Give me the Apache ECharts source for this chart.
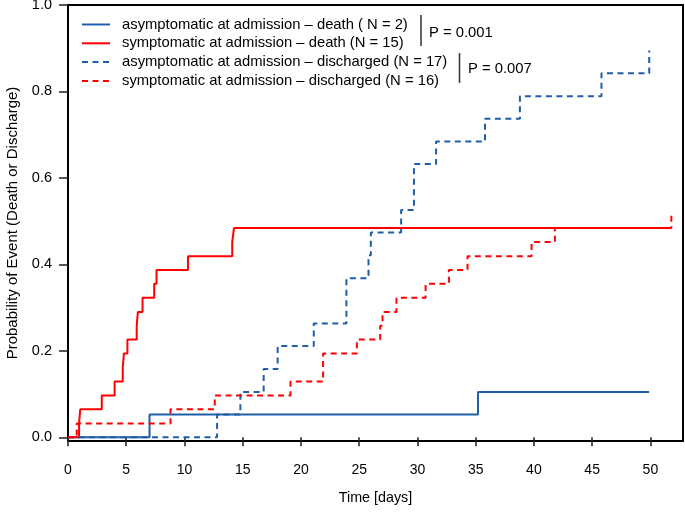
<!DOCTYPE html>
<html>
<head>
<meta charset="utf-8">
<script src="https://cdn.jsdelivr.net/npm/echarts@6/dist/echarts.min.js"></script>
<style>
  html, body { margin: 0; padding: 0; background: #fff; }
  #chart { width: 685px; height: 513px; }
</style>
</head>
<body>
<div id="chart"></div>
<script>
// ---- data ----
const seriesNames = [
  'asymptomatic at admission \u2013 death ( N = 2)',
  'symptomatic at admission \u2013 death (N = 15)',
  'asymptomatic at admission \u2013 discharged (N = 17)',
  'symptomatic at admission \u2013 discharged (N = 16)'
];

// asymptomatic – death (blue solid)
const asymDeathTime = [0, 7.0, 35.2, 49.9];
const asymDeathProb = [0, 0.053, 0.105, 0.105];

// symptomatic – death (red solid)
const symDeathTime = [0, 0.95, 1.05, 2.9, 4.0, 4.7, 4.8, 5.1, 5.9, 6.0, 6.4, 7.4, 7.6, 10.3, 14.1, 14.25, 51.8];
const symDeathProb = [0, 0.032, 0.065, 0.097, 0.129, 0.161, 0.194, 0.226, 0.258, 0.290, 0.323, 0.355, 0.387, 0.419, 0.452, 0.484, 0.484];

// asymptomatic – discharged (blue dashed)
const asymDischTime = [0, 12.8, 14.8, 16.8, 18.0, 21.1, 23.9, 25.8, 26.0, 28.6, 29.7, 31.6, 35.8, 38.8, 45.8, 49.9];
const asymDischProb = [0, 0.053, 0.105, 0.158, 0.211, 0.263, 0.368, 0.421, 0.474, 0.526, 0.632, 0.684, 0.737, 0.789, 0.842, 0.895];

// symptomatic – discharged (red dashed)
const symDischTime = [0, 0.75, 8.8, 12.6, 19.1, 21.9, 24.8, 26.8, 27.0, 28.2, 30.7, 32.7, 34.3, 39.8, 41.8, 51.8];
const symDischProb = [0, 0.032, 0.065, 0.097, 0.129, 0.194, 0.226, 0.258, 0.290, 0.323, 0.355, 0.387, 0.419, 0.452, 0.484, 0.516];

const xTicks = [0, 5, 10, 15, 20, 25, 30, 35, 40, 45, 50];
const yTicks = [0, 0.2, 0.4, 0.6, 0.8, 1.0];
const pValues = ['P = 0.001', 'P = 0.007'];

// ---- chart ----
const BLUE = '#1f5ea8';
const RED = '#ff0000';
const FONT = '"Liberation Sans", Arial, Helvetica, sans-serif';

function pairs(t, p) { return t.map((v, i) => [v, p[i]]); }

function mk(name, t, p, color, dashed) {
  return {
    name: name,
    type: 'line',
    step: 'end',
    data: pairs(t, p),
    symbol: 'none',
    showSymbol: false,
    clip: false,
    lineStyle: { color: color, width: 2, type: dashed ? [6, 4.5] : 'solid' },
    itemStyle: { color: color },
    emphasis: { disabled: true }
  };
}

const chart = echarts.init(document.getElementById('chart'), null, { renderer: 'canvas' });

chart.setOption({
  animation: false,
  backgroundColor: '#fff',
  textStyle: { fontFamily: FONT },
  grid: {
    left: 68, right: 2, top: 5, bottom: 72,
    outerBoundsMode: 'none',
    containLabel: false,
    show: true, borderColor: '#000', borderWidth: 2, backgroundColor: 'transparent'
  },
  legend: {
    orient: 'vertical',
    left: 81, top: 17,
    padding: 0,
    itemWidth: 28, itemHeight: 14, itemGap: 3.8,
    data: seriesNames,
    itemStyle: { opacity: 0 },
    textStyle: { fontFamily: FONT, fontSize: 14.8, lineHeight: 14, color: '#000', padding: [0, 0, 0, 7] },
    selectedMode: false
  },
  xAxis: {
    type: 'value',
    min: 0, max: 52.8,
    name: 'Time [days]',
    nameLocation: 'middle',
    nameGap: 50,
    nameTextStyle: { fontFamily: FONT, fontSize: 14.3, color: '#000' },
    axisLine: { show: false },
    splitLine: { show: false },
    axisTick: { show: true, inside: false, length: 9, customValues: xTicks, lineStyle: { color: '#222', width: 1.5 } },
    axisLabel: { customValues: xTicks, margin: 22, fontFamily: FONT, fontSize: 14, color: '#000' }
  },
  yAxis: {
    type: 'value',
    min: -0.0085, max: 1.0,
    name: 'Probability of Event (Death or Discharge)',
    nameLocation: 'middle',
    nameGap: 48,
    nameRotate: 90,
    nameTextStyle: { fontFamily: FONT, fontSize: 15, color: '#000' },
    axisLine: { show: false },
    splitLine: { show: false },
    axisTick: { show: true, inside: false, length: 9, customValues: yTicks, lineStyle: { color: '#222', width: 1.5 } },
    axisLabel: {
      customValues: yTicks, margin: 16, fontFamily: FONT, fontSize: 14.5, color: '#000',
      formatter: v => Number(v).toFixed(1)
    }
  },
  series: [
    mk(seriesNames[0], asymDeathTime, asymDeathProb, BLUE, false),
    mk(seriesNames[1], symDeathTime, symDeathProb, RED, false),
    mk(seriesNames[2], asymDischTime, asymDischProb, BLUE, true),
    mk(seriesNames[3], symDischTime, symDischProb, RED, true)
  ],
  graphic: [
    { type: 'line', shape: { x1: 421, y1: 15, x2: 421, y2: 46 }, style: { stroke: '#333', lineWidth: 1.5 } },
    { type: 'text', left: 429, top: 25, style: { text: pValues[0], font: '14.8px ' + FONT, fill: '#000' } },
    { type: 'line', shape: { x1: 459.5, y1: 53, x2: 459.5, y2: 83 }, style: { stroke: '#333', lineWidth: 1.5 } },
    { type: 'text', left: 468, top: 61, style: { text: pValues[1], font: '14.8px ' + FONT, fill: '#000' } }
  ]
});
</script>
</body>
</html>
